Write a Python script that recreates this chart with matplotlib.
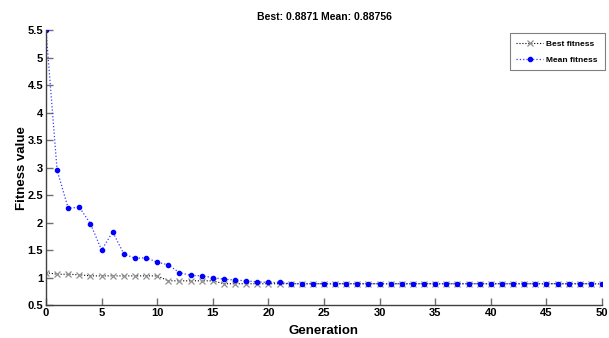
import numpy as np
import matplotlib
matplotlib.use("Agg")
import matplotlib.pyplot as plt
from matplotlib.ticker import FormatStrFormatter

generations = np.arange(0, 51)

best_head = [1.09, 1.06, 1.06, 1.05, 1.03, 1.03, 1.03, 1.03, 1.03, 1.03, 1.03,
             0.94, 0.94, 0.94, 0.94, 0.94]
best_fitness = best_head + [0.8871] * (51 - len(best_head))

mean_head = [5.50, 2.95, 2.26, 2.28, 1.98, 1.50, 1.83, 1.43, 1.35, 1.36, 1.28,
             1.23, 1.09, 1.04, 1.03, 1.00, 0.97, 0.955, 0.94, 0.92, 0.91, 0.91]
mean_fitness = mean_head + [0.88756] * (51 - len(mean_head))

title_text = "Best: 0.8871 Mean: 0.88756"

plt.rcParams["font.family"] = ["Liberation Sans", "DejaVu Sans"]
plt.rcParams["font.weight"] = "bold"

fig = plt.figure(figsize=(6.09, 3.38), dpi=100)
ax = fig.add_axes([0.0755, 0.0976, 0.913, 0.813])

ax.plot(generations, best_fitness, ls=":", color="black", lw=0.8,
        marker="x", ms=4.5, mec="#909090", mew=0.9, label="Best fitness")
ax.plot(generations, mean_fitness, ls=":", color="#3a3aff", lw=0.9,
        marker="o", ms=3, mec="blue", mfc="blue", label="Mean fitness")

ax.set_xlim(0, 50)
ax.set_ylim(0.5, 5.5)
ax.set_xticks(np.arange(0, 51, 5))
ax.set_yticks(np.arange(0.5, 5.51, 0.5))
ax.yaxis.set_major_formatter(FormatStrFormatter("%g"))
ax.tick_params(direction="in", length=5, width=1.0, color="#707070",
               labelsize=8, pad=2)
for side in ("top", "right"):
    ax.spines[side].set_visible(False)
for side in ("left", "bottom"):
    ax.spines[side].set_color("#404040")
    ax.spines[side].set_linewidth(1.0)

ax.set_xlabel("Generation", fontsize=9.5, fontweight="bold", labelpad=5)
ax.set_ylabel("Fitness value", fontsize=9.5, fontweight="bold", labelpad=0)
ax.set_title(title_text, fontsize=7.5, fontweight="bold", pad=7)

leg = ax.legend(loc="upper right", fontsize=6, frameon=True, fancybox=False,
                edgecolor="#606060", handlelength=3.2, handletextpad=0.4,
                borderpad=0.8, labelspacing=1.0, bbox_to_anchor=(1.012, 1.005))
leg.get_frame().set_linewidth(0.8)

fig.savefig("out.png", dpi=100)
